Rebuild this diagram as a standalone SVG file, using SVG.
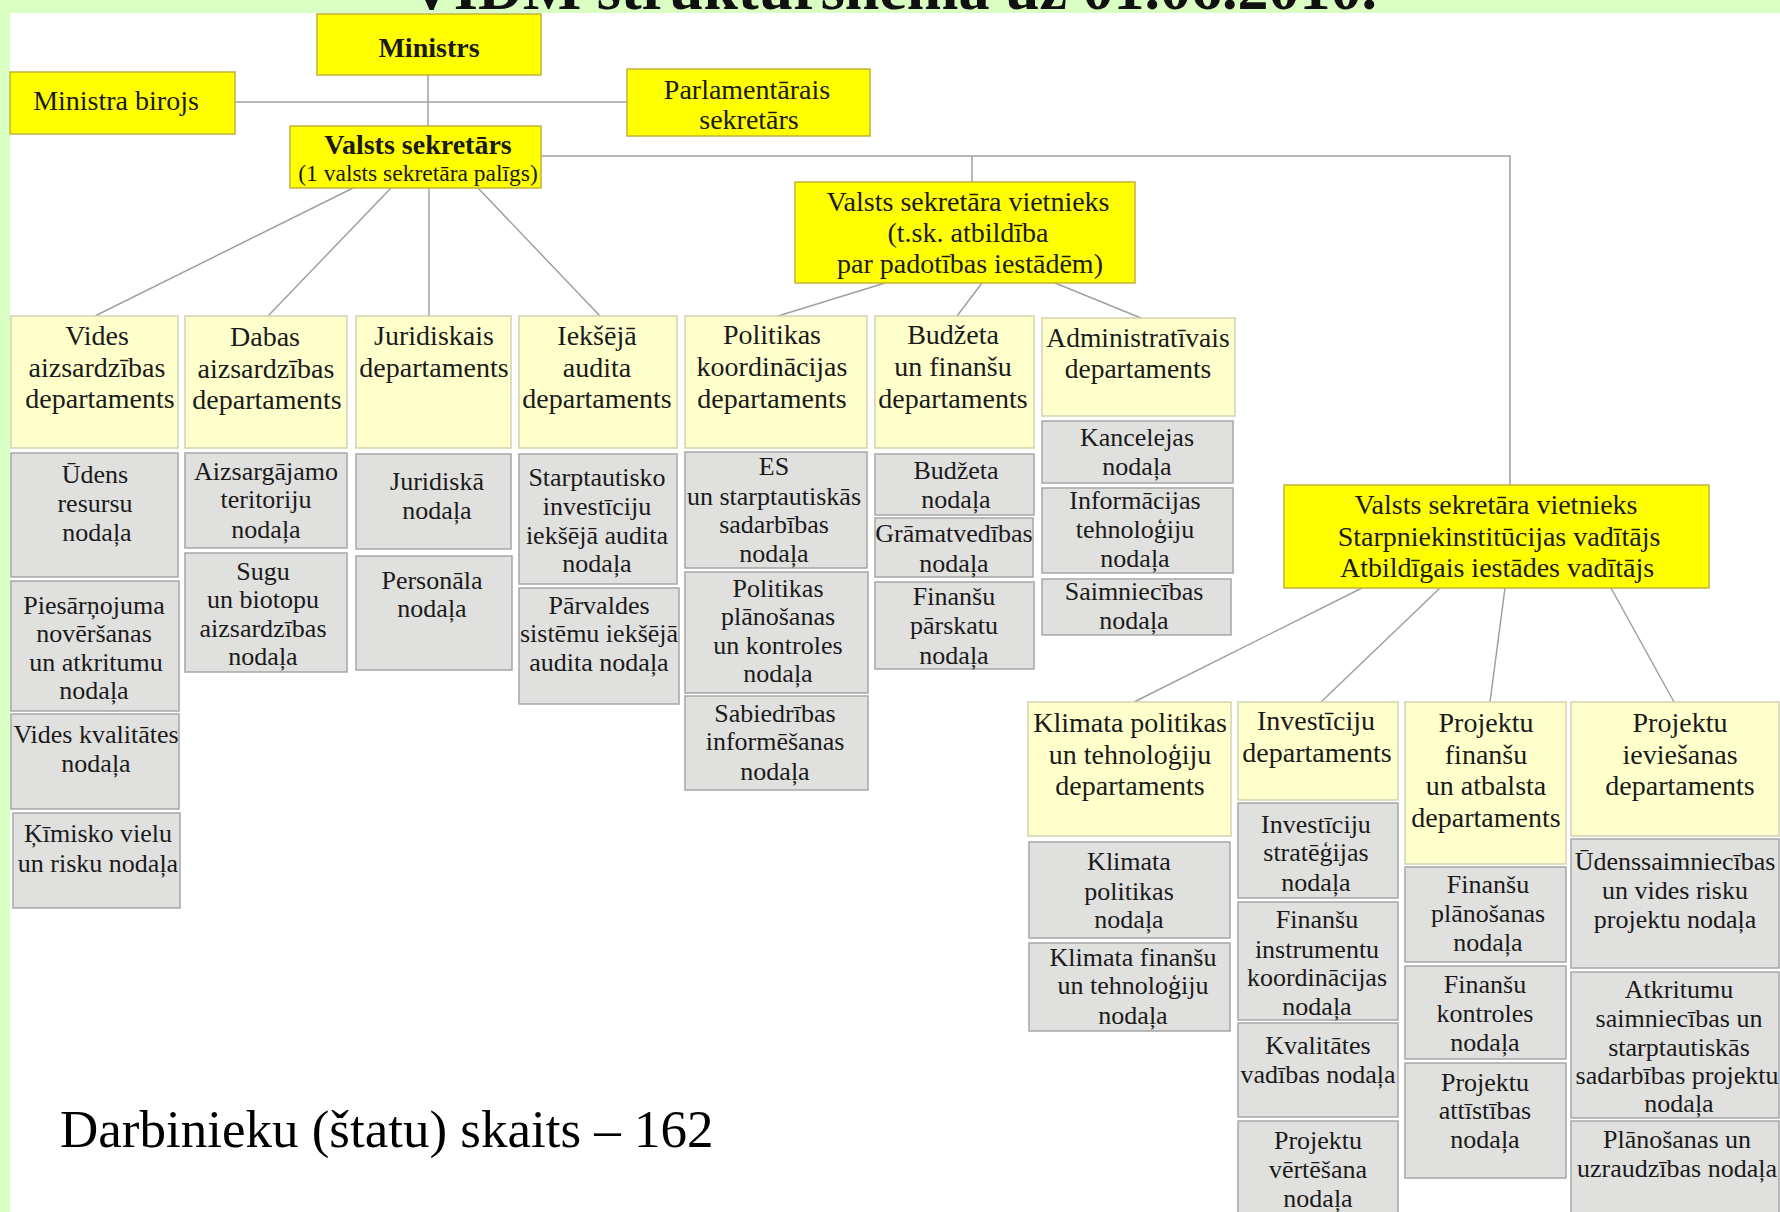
<svg xmlns="http://www.w3.org/2000/svg" width="1780" height="1212" viewBox="0 0 1780 1212">
<style>
.bg{fill:#ffffff}
.band{fill:#d9ffc3}
.y{fill:#ffff00;stroke:#c2b13c;stroke-width:1.5}
.d{fill:#ffffcc;stroke:#d2d2b0;stroke-width:1.5}
.n{fill:#e0e0de;stroke:#a6a6a6;stroke-width:1.5}
text{font-family:"Liberation Serif","Times New Roman",serif;fill:#1a1a1a;text-anchor:middle}
.t28{font-size:28px}
.t27{font-size:27.5px}
.t26{font-size:26px}
.t23{font-size:23.5px}
.b{font-weight:bold}
.c line,.c polyline{stroke:#a0a0a0;stroke-width:1.5;fill:none}
</style>
<rect class="bg" x="0" y="0" width="1780" height="1212"/>
<rect class="band" x="0" y="0" width="1780" height="13"/>
<rect class="band" x="0" y="0" width="10" height="1212"/>
<text x="893" y="9" class="b" style="font-size:62px;fill:#111">VIDM struktūrshēma uz 01.06.2010.</text>

<g id="connectors" class="c">
<line x1="428" y1="75" x2="428" y2="126"/>
<line x1="235" y1="102" x2="627" y2="102"/>
<polyline points="541,156 1510,156 1510,485"/>
<line x1="972" y1="156" x2="972" y2="182"/>
<line x1="353" y1="188" x2="95" y2="316"/>
<line x1="391" y1="188" x2="268" y2="316"/>
<line x1="429" y1="188" x2="429" y2="316"/>
<line x1="478" y1="188" x2="600" y2="316"/>
<line x1="885" y1="283" x2="778" y2="316"/>
<line x1="982" y1="283" x2="957" y2="316"/>
<line x1="1055" y1="283" x2="1141" y2="318"/>
<line x1="1362" y1="588" x2="1134" y2="702"/>
<line x1="1440" y1="588" x2="1321" y2="702"/>
<line x1="1505" y1="588" x2="1490" y2="702"/>
<line x1="1611" y1="588" x2="1674" y2="702"/>
</g>

<g id="ministrs"><rect class="y" x="317" y="14" width="224" height="61"/><text class="t28 b" x="429" y="57">Ministrs</text></g>
<g id="ministra-birojs"><rect class="y" x="10" y="72" width="225" height="62"/><text class="t28" x="116" y="110">Ministra birojs</text></g>
<g id="parlamentarais"><rect class="y" x="627" y="69" width="243" height="67"/><text class="t28"><tspan x="747" y="99">Parlamentārais</tspan><tspan x="749" y="129">sekretārs</tspan></text></g>
<g id="valsts-sekretars"><rect class="y" x="290" y="126" width="251" height="62"/><text><tspan class="t28 b" x="418" y="154">Valsts sekretārs</tspan><tspan class="t23" x="418" y="181">(1 valsts sekretāra palīgs)</tspan></text></g>
<g id="vsv1"><rect class="y" x="795" y="182" width="340" height="101"/><text class="t28"><tspan x="968" y="211">Valsts sekretāra vietnieks</tspan><tspan x="968" y="242">(t.sk. atbildība</tspan><tspan x="970" y="273">par padotības iestādēm)</tspan></text></g>
<g id="vsv2"><rect class="y" x="1284" y="485" width="425" height="103"/><text class="t28"><tspan x="1496" y="514">Valsts sekretāra vietnieks</tspan><tspan x="1499" y="546">Starpniekinstitūcijas vadītājs</tspan><tspan x="1497" y="577">Atbildīgais iestādes vadītājs</tspan></text></g>

<g id="dep-vides"><rect class="d" x="11" y="316" width="167" height="132"/><text class="t28"><tspan x="97" y="345">Vides</tspan><tspan x="97" y="377">aizsardzības</tspan><tspan x="100" y="408">departaments</tspan></text></g>
<g id="dep-dabas"><rect class="d" x="185" y="316" width="162" height="132"/><text class="t28"><tspan x="265" y="346">Dabas</tspan><tspan x="266" y="378">aizsardzības</tspan><tspan x="267" y="409">departaments</tspan></text></g>
<g id="dep-juridiskais"><rect class="d" x="356" y="316" width="155" height="132"/><text class="t28"><tspan x="434" y="345">Juridiskais</tspan><tspan x="434" y="377">departaments</tspan></text></g>
<g id="dep-ieksejais"><rect class="d" x="519" y="316" width="158" height="132"/><text class="t28"><tspan x="597" y="345">Iekšējā</tspan><tspan x="597" y="377">audita</tspan><tspan x="597" y="408">departaments</tspan></text></g>
<g id="dep-politikas"><rect class="d" x="685" y="316" width="182" height="132"/><text class="t28"><tspan x="772" y="344">Politikas</tspan><tspan x="772" y="376">koordinācijas</tspan><tspan x="772" y="408">departaments</tspan></text></g>
<g id="dep-budzeta"><rect class="d" x="875" y="316" width="159" height="132"/><text class="t28"><tspan x="953" y="344">Budžeta</tspan><tspan x="953" y="376">un finanšu</tspan><tspan x="953" y="408">departaments</tspan></text></g>
<g id="dep-administrativais"><rect class="d" x="1042" y="318" width="193" height="98"/><text class="t27"><tspan x="1138" y="347">Administratīvais</tspan><tspan x="1138" y="378">departaments</tspan></text></g>
<g id="dep-klimata"><rect class="d" x="1028" y="702" width="203" height="134"/><text class="t28"><tspan x="1130" y="732">Klimata politikas</tspan><tspan x="1130" y="764">un tehnoloģiju</tspan><tspan x="1130" y="795">departaments</tspan></text></g>
<g id="dep-investiciju"><rect class="d" x="1238" y="702" width="160" height="98"/><text class="t28"><tspan x="1316" y="730">Investīciju</tspan><tspan x="1317" y="762">departaments</tspan></text></g>
<g id="dep-projektu-finansu"><rect class="d" x="1405" y="702" width="161" height="162"/><text class="t28"><tspan x="1486" y="732">Projektu</tspan><tspan x="1486" y="764">finanšu</tspan><tspan x="1486" y="795">un atbalsta</tspan><tspan x="1486" y="827">departaments</tspan></text></g>
<g id="dep-projektu-ieviesanas"><rect class="d" x="1571" y="702" width="208" height="134"/><text class="t28"><tspan x="1680" y="732">Projektu</tspan><tspan x="1680" y="764">ieviešanas</tspan><tspan x="1680" y="795">departaments</tspan></text></g>

<g id="n-udens"><rect class="n" x="11" y="453" width="167" height="124"/><text class="t26"><tspan x="95" y="483">Ūdens</tspan><tspan x="95" y="512">resursu</tspan><tspan x="97" y="541">nodaļa</tspan></text></g>
<g id="n-piesarnojuma"><rect class="n" x="11" y="581" width="168" height="130"/><text class="t26"><tspan x="94" y="614">Piesārņojuma</tspan><tspan x="94" y="642">novēršanas</tspan><tspan x="96" y="671">un atkritumu</tspan><tspan x="94" y="699">nodaļa</tspan></text></g>
<g id="n-vides-kvalitates"><rect class="n" x="11" y="714" width="168" height="95"/><text class="t26"><tspan x="96" y="743">Vides kvalitātes</tspan><tspan x="96" y="772">nodaļa</tspan></text></g>
<g id="n-kimisko"><rect class="n" x="13" y="813" width="167" height="95"/><text class="t26"><tspan x="98" y="842">Ķīmisko vielu</tspan><tspan x="98" y="872">un risku nodaļa</tspan></text></g>
<g id="n-aizsargajamo"><rect class="n" x="185" y="453" width="162" height="95"/><text class="t26"><tspan x="266" y="480">Aizsargājamo</tspan><tspan x="266" y="508">teritoriju</tspan><tspan x="266" y="538">nodaļa</tspan></text></g>
<g id="n-sugu"><rect class="n" x="185" y="553" width="162" height="119"/><text class="t26"><tspan x="263" y="580">Sugu</tspan><tspan x="263" y="608">un biotopu</tspan><tspan x="263" y="637">aizsardzības</tspan><tspan x="263" y="665">nodaļa</tspan></text></g>
<g id="n-juridiska"><rect class="n" x="356" y="454" width="155" height="95"/><text class="t26"><tspan x="437" y="490">Juridiskā</tspan><tspan x="437" y="519">nodaļa</tspan></text></g>
<g id="n-personala"><rect class="n" x="356" y="556" width="156" height="114"/><text class="t26"><tspan x="432" y="589">Personāla</tspan><tspan x="432" y="617">nodaļa</tspan></text></g>
<g id="n-starptautisko"><rect class="n" x="519" y="454" width="158" height="130"/><text class="t26"><tspan x="597" y="486">Starptautisko</tspan><tspan x="597" y="515">investīciju</tspan><tspan x="597" y="544">iekšējā audita</tspan><tspan x="597" y="572">nodaļa</tspan></text></g>
<g id="n-parvaldes"><rect class="n" x="519" y="588" width="160" height="116"/><text class="t26"><tspan x="599" y="614">Pārvaldes</tspan><tspan x="599" y="642">sistēmu iekšējā</tspan><tspan x="599" y="671">audita nodaļa</tspan></text></g>
<g id="n-es"><rect class="n" x="685" y="452" width="182" height="116"/><text class="t26"><tspan x="774" y="475">ES</tspan><tspan x="774" y="505">un starptautiskās</tspan><tspan x="774" y="533">sadarbības</tspan><tspan x="774" y="562">nodaļa</tspan></text></g>
<g id="n-politikas-planosanas"><rect class="n" x="685" y="572" width="183" height="121"/><text class="t26"><tspan x="778" y="597">Politikas</tspan><tspan x="778" y="625">plānošanas</tspan><tspan x="778" y="654">un kontroles</tspan><tspan x="778" y="682">nodaļa</tspan></text></g>
<g id="n-sabiedribas"><rect class="n" x="685" y="696" width="183" height="94"/><text class="t26"><tspan x="775" y="722">Sabiedrības</tspan><tspan x="775" y="750">informēšanas</tspan><tspan x="775" y="780">nodaļa</tspan></text></g>
<g id="n-budzeta"><rect class="n" x="875" y="454" width="159" height="61"/><text class="t26"><tspan x="956" y="479">Budžeta</tspan><tspan x="956" y="508">nodaļa</tspan></text></g>
<g id="n-gramatvedibas"><rect class="n" x="875" y="518" width="158" height="59"/><text class="t26"><tspan x="954" y="542">Grāmatvedības</tspan><tspan x="954" y="572">nodaļa</tspan></text></g>
<g id="n-finansu-parskatu"><rect class="n" x="875" y="582" width="159" height="87"/><text class="t26"><tspan x="954" y="605">Finanšu</tspan><tspan x="954" y="634">pārskatu</tspan><tspan x="954" y="664">nodaļa</tspan></text></g>
<g id="n-kancelejas"><rect class="n" x="1042" y="421" width="191" height="62"/><text class="t26"><tspan x="1137" y="446">Kancelejas</tspan><tspan x="1137" y="475">nodaļa</tspan></text></g>
<g id="n-informacijas"><rect class="n" x="1042" y="488" width="191" height="85"/><text class="t26"><tspan x="1135" y="509">Informācijas</tspan><tspan x="1135" y="538">tehnoloģiju</tspan><tspan x="1135" y="567">nodaļa</tspan></text></g>
<g id="n-saimniecibas"><rect class="n" x="1042" y="579" width="189" height="56"/><text class="t26"><tspan x="1134" y="600">Saimniecības</tspan><tspan x="1134" y="629">nodaļa</tspan></text></g>
<g id="n-klimata-politikas"><rect class="n" x="1029" y="842" width="201" height="96"/><text class="t26"><tspan x="1129" y="870">Klimata</tspan><tspan x="1129" y="900">politikas</tspan><tspan x="1129" y="928">nodaļa</tspan></text></g>
<g id="n-klimata-finansu"><rect class="n" x="1029" y="943" width="201" height="88"/><text class="t26"><tspan x="1133" y="966">Klimata finanšu</tspan><tspan x="1133" y="994">un tehnoloģiju</tspan><tspan x="1133" y="1024">nodaļa</tspan></text></g>
<g id="n-investiciju-strategijas"><rect class="n" x="1238" y="803" width="160" height="95"/><text class="t26"><tspan x="1316" y="833">Investīciju</tspan><tspan x="1316" y="861">stratēģijas</tspan><tspan x="1316" y="891">nodaļa</tspan></text></g>
<g id="n-finansu-instrumentu"><rect class="n" x="1238" y="902" width="160" height="118"/><text class="t26"><tspan x="1317" y="928">Finanšu</tspan><tspan x="1317" y="958">instrumentu</tspan><tspan x="1317" y="986">koordinācijas</tspan><tspan x="1317" y="1015">nodaļa</tspan></text></g>
<g id="n-kvalitates"><rect class="n" x="1238" y="1023" width="160" height="94"/><text class="t26"><tspan x="1318" y="1054">Kvalitātes</tspan><tspan x="1318" y="1083">vadības nodaļa</tspan></text></g>
<g id="n-projektu-vertesana"><rect class="n" x="1238" y="1121" width="160" height="96"/><text class="t26"><tspan x="1318" y="1149">Projektu</tspan><tspan x="1318" y="1178">vērtēšana</tspan><tspan x="1318" y="1207">nodaļa</tspan></text></g>
<g id="n-finansu-planosanas"><rect class="n" x="1405" y="867" width="161" height="95"/><text class="t26"><tspan x="1488" y="893">Finanšu</tspan><tspan x="1488" y="922">plānošanas</tspan><tspan x="1488" y="951">nodaļa</tspan></text></g>
<g id="n-finansu-kontroles"><rect class="n" x="1405" y="966" width="161" height="93"/><text class="t26"><tspan x="1485" y="993">Finanšu</tspan><tspan x="1485" y="1022">kontroles</tspan><tspan x="1485" y="1051">nodaļa</tspan></text></g>
<g id="n-projektu-attistibas"><rect class="n" x="1405" y="1063" width="161" height="115"/><text class="t26"><tspan x="1485" y="1091">Projektu</tspan><tspan x="1485" y="1119">attīstības</tspan><tspan x="1485" y="1148">nodaļa</tspan></text></g>
<g id="n-udenssaimniecibas"><rect class="n" x="1571" y="839" width="208" height="129"/><text class="t26"><tspan x="1675" y="870">Ūdenssaimniecības</tspan><tspan x="1675" y="899">un vides risku</tspan><tspan x="1675" y="928">projektu nodaļa</tspan></text></g>
<g id="n-atkritumu"><rect class="n" x="1571" y="972" width="208" height="146"/><text class="t26"><tspan x="1679" y="998">Atkritumu</tspan><tspan x="1679" y="1027">saimniecības un</tspan><tspan x="1679" y="1056">starptautiskās</tspan><tspan x="1677" y="1084">sadarbības projektu</tspan><tspan x="1679" y="1112">nodaļa</tspan></text></g>
<g id="n-planosanas-uzraudzibas"><rect class="n" x="1571" y="1121" width="208" height="96"/><text class="t26"><tspan x="1677" y="1148">Plānošanas un</tspan><tspan x="1677" y="1177">uzraudzības nodaļa</tspan></text></g>

<text x="60" y="1147" style="font-size:53px;text-anchor:start;fill:#000">Darbinieku (štatu) skaits – 162</text>
</svg>
